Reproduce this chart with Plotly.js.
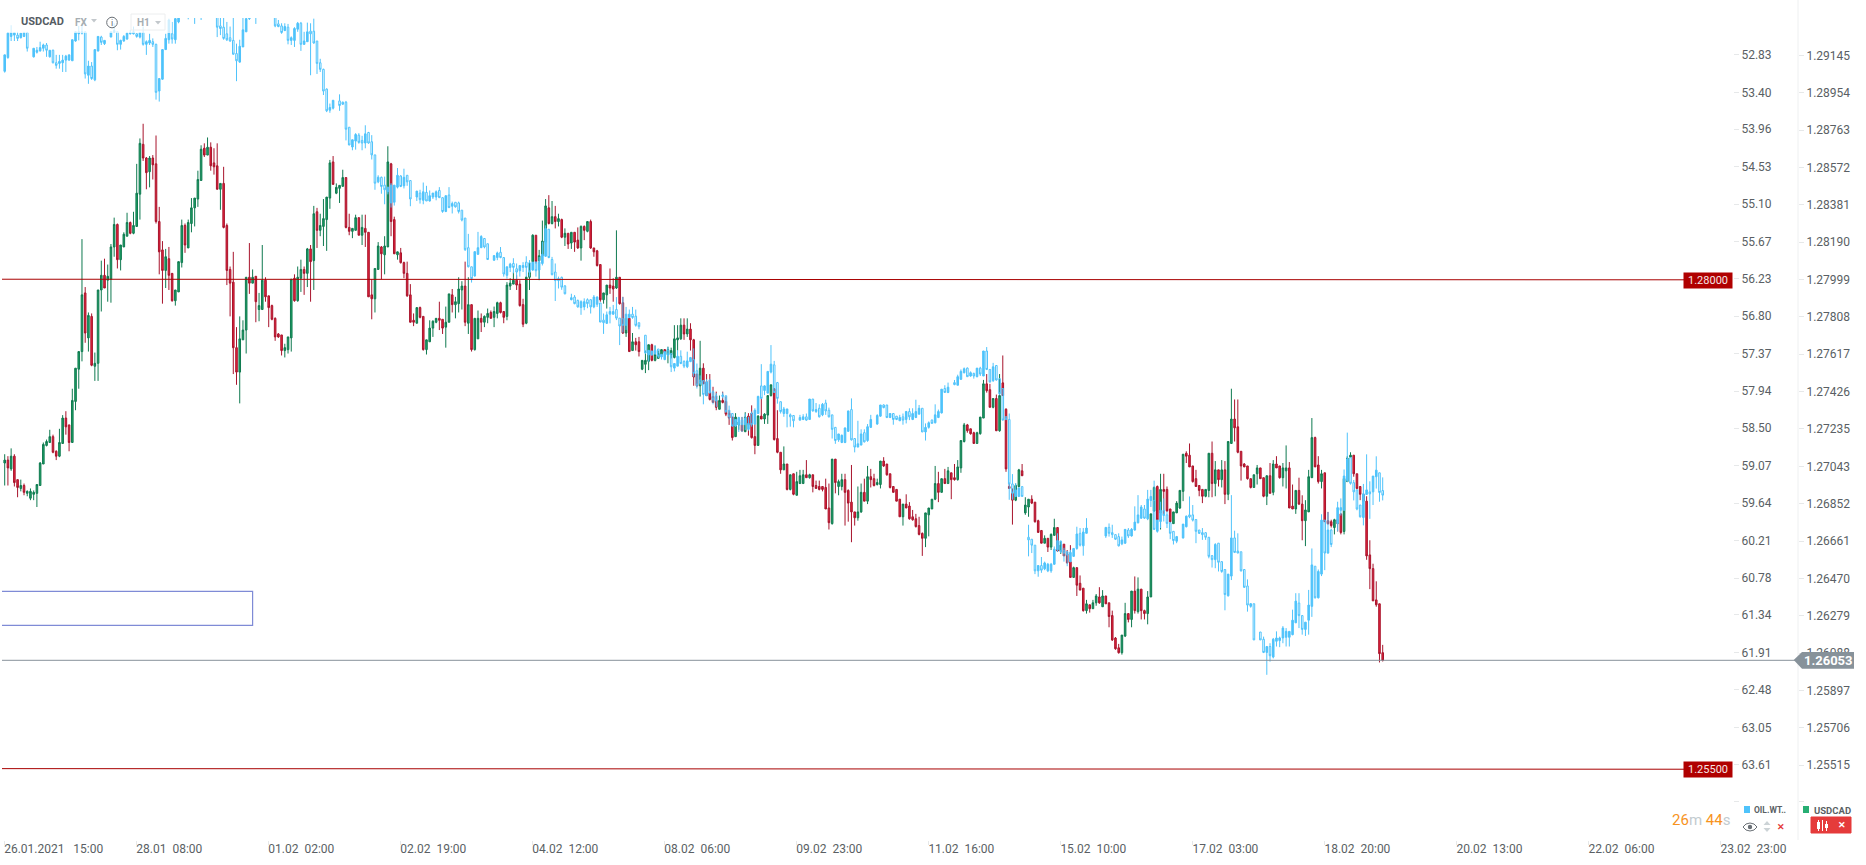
<!DOCTYPE html>
<html><head><meta charset="utf-8">
<script src="https://cdn.plot.ly/plotly-3.0.1.min.js"></script>
<style>html,body{margin:0;padding:0;background:#fff;overflow:hidden}#c{width:1866px;height:865px}</style>
</head><body><div id="c"></div>
<script>
// USDCAD H1 bars: open,high,low,close in half-pip steps above 1.25000
const usdBars0=[
412,421,389,415, 415,419,389,407, 406,427,404,419, 419,421,388,392, 395,395,377,387, 386,395,383,389, 389,391,379,382, 381,384,378,383, 376,386,374,383, 380,384,374,382,
381,390,367,390, 389,413,389,412, 411,433,411,431, 430,436,429,434, 433,446,433,439, 439,441,422,423, 424,425,415,419, 419,447,418,433, 432,461,432,458, 458,465,441,449,
451,451,424,433, 433,488,433,476, 475,509,466,509, 508,526,488,526, 526,641,516,584, 586,592,535,545, 540,566,526,563, 562,565,511,512, 511,525,496,514, 514,589,496,589,
589,619,567,604, 604,621,591,591, 599,615,577,603, 600,636,576,633, 633,663,623,656, 656,657,611,620, 620,635,609,635, 633,648,633,646, 644,668,644,658, 658,659,646,647,
647,669,646,655, 654,718,654,688, 687,744,661,739, 738,759,721,724, 724,725,692,709, 710,726,694,724, 724,727,702,717, 718,747,657,659, 659,674,605,628, 630,639,575,609,
609,631,591,623, 621,633,589,604, 606,606,577,578, 578,589,573,589, 587,618,587,618, 617,661,612,655, 655,657,627,635, 632,661,632,658, 657,683,648,673, 673,683,654,683,
682,711,674,702, 701,737,701,733, 734,739,725,727, 727,745,727,735, 735,740,711,716, 719,734,707,715, 716,739,692,692, 692,698,671,698, 698,715,652,653, 655,657,594,609,
610,613,562,596, 597,628,503,530, 530,551,492,505, 505,562,473,539, 538,558,538,548, 548,602,524,602, 602,637,585,596, 596,610,596,602, 603,603,556,577, 569,586,557,573,
569,635,569,599, 599,602,577,582, 583,583,551,571, 573,574,558,559, 560,561,537,541, 544,545,540,541, 543,543,522,527, 527,534,520,530, 528,541,524,541, 540,600,526,600,
601,605,577,578, 578,613,577,602, 601,620,587,610, 610,613,584,606, 606,632,592,631, 631,635,577,618, 619,675,589,667, 669,673,632,650, 650,667,644,655, 654,682,634,662];
const usdBars1=[
661,684,629,684, 683,722,672,719, 720,726,697,697, 688,698,687,694, 693,696,678,696, 695,712,695,704, 704,704,652,653, 653,667,645,649, 649,652,642,652, 650,666,650,663,
663,663,645,645, 645,666,635,653, 652,666,633,648, 648,648,582,582, 584,600,559,580, 580,611,566,611, 610,638,610,634, 633,634,600,626, 625,644,605,634, 633,736,633,720,
718,719,644,659, 661,664,626,626, 625,627,620,628, 627,632,616,617, 617,618,601,606, 606,618,582,583, 584,595,556,556, 558,565,552,556, 555,571,555,571, 571,572,560,561,
562,562,527,528, 528,538,523,538, 536,558,536,550, 550,558,541,557, 556,560,555,560, 560,577,548,558, 559,559,544,550, 551,572,530,556, 556,585,556,585, 584,590,566,574,
574,582,560,577, 575,602,566,590, 589,598,569,593, 593,618,552,556, 555,602,544,574, 574,574,526,528, 528,560,527,560, 539,568,539,560, 560,565,546,556, 556,563,551,562,
561,570,555,565, 566,568,560,560, 561,572,551,567, 565,577,560,576, 576,577,565,566, 567,567,555,561, 562,597,558,594, 593,601,589,596, 595,607,595,599, 599,604,589,594,
595,599,572,573, 574,580,551,554, 555,603,554,602, 602,619,589,607, 618,646,616,645, 645,645,616,618, 619,630,599,624, 624,660,623,639, 638,682,636,675, 673,686,656,657,
657,680,656,664, 664,675,652,659, 659,667,654,662, 661,662,642,643, 643,652,634,647, 647,647,631,636, 637,648,631,648, 648,648,628,638, 640,653,631,632, 632,655,619,654,
654,655,640,650, 649,659,648,659, 659,661,631,632, 632,632,623,628, 629,630,613,614, 615,615,577,579, 579,586,575,586, 584,594,570,594, 594,611,585,591, 593,601,577,590,
591,650,590,602, 602,602,574,575, 576,582,544,545, 545,560,541,560, 560,560,526,526, 527,545,527,536, 536,540,527,533, 536,541,521,526, 508,517,507,517, 513,527,504,517];
const usdBars2=[
516,533,507,533, 533,534,516,517, 517,532,516,523, 519,527,519,524, 523,528,519,528, 528,528,519,525, 523,531,514,528, 523,530,519,527, 520,553,519,539, 538,553,527,540,
539,560,538,553, 553,560,538,544, 544,560,541,549, 549,555,527,538, 538,539,491,500, 503,503,490,491, 491,537,480,509, 509,514,493,493, 495,503,481,481, 484,503,476,477,
480,490,474,474, 476,485,466,469, 467,481,467,476, 476,485,473,474, 475,480,460,462, 463,466,451,458, 459,459,435,438, 439,463,439,459, 451,457,446,454, 451,459,444,445,
444,464,444,459, 460,463,440,451, 463,471,437,438, 439,466,421,430, 430,461,430,460, 460,478,457,457, 457,463,452,462, 461,481,452,481, 481,492,480,492, 488,488,435,436,
437,466,422,423, 423,423,401,405, 405,429,405,411, 411,411,384,385, 385,400,384,400, 401,401,379,380, 379,403,379,393, 391,405,391,399, 391,405,391,400, 400,415,397,397,
397,401,396,400, 400,400,382,388, 389,394,386,386, 388,394,384,385, 388,388,383,385, 387,396,365,365, 366,391,344,351, 350,416,349,416, 416,416,381,392, 388,395,379,393,
388,401,384,395, 395,401,348,382, 384,385,352,371, 372,410,331,362, 362,362,348,356, 356,388,353,362, 362,391,361,382, 382,396,373,373, 373,409,370,398, 398,406,387,395,
396,401,388,389, 390,396,389,392, 390,414,386,414, 414,418,408,409, 411,411,399,400, 401,401,386,387, 388,388,382,382, 385,385,373,373, 375,375,357,357, 357,370,348,370,
370,380,366,366, 368,372,354,355, 357,364,353,354, 355,360,346,347, 348,357,338,339, 340,341,317,335, 335,361,326,361, 359,366,337,366, 365,375,365,375, 375,409,374,391,
391,403,372,382, 382,396,382,396, 396,406,391,391, 391,408,391,404, 402,402,375,395, 397,411,394,395, 395,415,394,408, 407,435,402,435, 434,453,433,451, 451,452,443,445];
const usdBars3=[
447,447,441,442, 443,444,432,432, 432,444,432,443, 442,459,441,459, 458,497,458,493, 493,503,484,486, 487,493,469,469, 469,478,468,478, 478,482,445,445, 445,503,444,481,
494,522,481,481, 467,468,403,406, 388,391,386,386, 381,386,349,374, 374,391,373,389, 388,406,387,405, 404,411,399,399, 361,377,359,369, 367,375,357,375, 375,379,370,371,
372,372,351,352, 353,354,341,341, 343,343,330,330, 330,338,330,335, 335,335,321,326, 326,340,323,339, 338,355,338,346, 346,346,321,322, 322,332,319,328, 329,329,317,317,
319,323,309,310, 311,328,295,295, 295,306,295,305, 305,305,276,287, 289,297,282,282, 284,284,260,261, 261,272,258,268, 267,267,259,263, 263,272,263,269, 269,278,266,276,
275,285,268,269, 265,282,265,276, 276,276,268,268, 269,269,244,255, 256,261,230,231, 233,234,221,222, 223,227,217,218, 218,236,216,236, 235,269,234,258, 258,258,249,252,
252,281,244,281, 281,296,258,261, 260,295,258,283, 283,283,252,261, 261,262,252,258, 258,281,247,275, 275,360,275,360, 363,388,362,387, 388,389,353,354, 361,401,344,385,
385,401,360,383, 385,388,362,363, 365,365,351,352, 350,362,350,362, 361,373,361,371, 366,384,365,384, 383,421,373,421, 422,424,412,419, 420,432,408,408, 409,409,392,393,
396,405,388,388, 389,389,378,384, 385,385,371,378, 378,385,377,385, 384,422,377,422, 422,434,377,391, 391,414,378,405, 405,405,388,395, 395,415,387,405, 405,414,370,380,
380,434,374,434, 432,488,432,457, 457,477,434,448, 449,477,422,423, 424,424,394,409, 411,412,408,408, 409,409,395,396, 396,396,386,387, 387,400,387,400, 401,410,390,407,
407,407,396,396, 397,397,377,378, 378,399,369,399, 399,412,381,381, 382,415,379,411, 411,419,407,407, 409,409,396,397, 397,412,388,407, 404,430,386,407, 407,413,366,366];
const usdBars4=[
368,390,365,365, 365,384,360,384, 384,397,369,370, 370,379,333,353, 353,374,327,364, 362,405,362,398, 397,458,397,438, 438,439,408,408, 410,419,391,393, 393,405,386,401,
402,402,352,352, 353,362,349,350, 352,354,346,348, 346,355,339,354, 354,355,342,350, 360,360,339,341, 342,396,339,396, 393,419,393,417, 418,423,418,420, 420,420,398,401,
401,401,385,386, 388,388,374,380, 380,380,372,373, 373,378,313,317, 318,333,283,304, 304,309,271,271, 272,291,265,267, 268,268,208,217, 218,226,209,210];
// OIL.WTI H1 bars: open,high,low,close in cents above 50.00 (0,0,0,0 = market closed that hour)
const oilBars0=[
308,310,283,283, 287,289,250,250, 255,262,238,249, 253,262,249,249, 253,262,248,258, 257,258,250,250, 255,256,248,249, 249,278,248,273, 0,0,0,0, 286,287,273,273,
279,281,271,276, 277,278,263,272, 273,278,266,268, 268,286,265,276, 286,287,276,276, 276,296,275,295, 295,304,283,299, 296,304,283,293, 295,309,283,291, 291,309,283,285,
291,292,283,283, 292,292,260,260, 262,263,248,248, 251,261,239,248, 250,252,235,248, 248,319,248,312, 314,327,292,300, 300,321,294,319, 321,323,275,275, 277,278,255,255,
256,268,254,264, 266,268,261,261, 0,0,0,0, 256,256,248,248, 249,249,235,246, 248,276,248,267, 267,275,260,261, 262,263,253,255, 259,260,248,250, 251,252,245,249,
251,252,240,248, 251,257,250,255, 256,258,249,249, 249,269,240,267, 267,283,261,263, 265,268,251,261, 263,271,258,267, 267,351,266,340, 338,354,319,319, 320,321,275,275,
275,275,251,258, 260,266,228,230, 251,266,233,259, 260,266,225,228, 233,235,215,222, 222,224,210,215, 0,0,0,0, 212,229,205,218, 218,222,209,214, 214,236,208,218,
218,221,205,209, 209,230,204,214, 214,219,203,208, 208,213,198,203, 203,215,198,210, 210,221,205,218, 218,256,218,241, 239,253,222,243, 241,260,225,258, 251,262,233,260,
257,263,240,262, 261,283,225,282, 281,323,266,292, 294,295,260,270, 271,271,225,245, 248,248,225,228, 228,230,210,215, 215,218,205,210, 210,236,205,222, 222,224,210,214,
0,0,0,0, 210,214,200,205, 205,212,198,208, 208,216,204,214, 214,241,212,239, 236,241,230,240, 239,251,235,249, 246,247,235,240, 241,267,236,261, 261,268,255,257,
261,271,241,243, 244,248,233,235, 235,277,233,267, 267,268,248,262, 263,263,234,248, 247,314,235,251, 247,266,228,265, 262,312,262,296, 295,309,289,305, 305,344,304,338];
const oilBars1=[
335,370,334,368, 367,371,357,363, 364,366,352,352, 0,0,0,0, 353,368,343,360, 355,359,354,358, 355,413,353,396, 393,420,393,420, 423,428,412,412, 414,427,402,404,
405,418,402,416, 413,428,406,417, 417,425,390,403, 401,418,400,417, 415,442,405,435, 435,488,435,478, 476,478,466,469, 469,494,468,483, 481,510,468,488, 491,495,484,484,
508,515,478,481, 507,512,481,481, 484,486,455,466, 467,484,466,483, 482,486,456,469, 466,482,466,476, 474,513,474,502, 0,0,0,0, 499,505,490,490, 493,509,488,503,
504,510,477,491, 492,505,482,505, 505,506,489,497, 499,502,493,493, 499,504,489,491, 489,500,484,500, 500,523,500,521, 521,522,497,497, 496,516,484,515, 513,524,506,509,
507,515,507,514, 508,524,506,521, 519,536,519,534, 531,581,531,579, 576,606,555,605, 605,629,605,623, 619,620,582,582, 586,587,552,576, 576,576,557,559, 562,577,562,575,
570,594,570,594, 0,0,0,0, 595,596,588,588, 591,595,582,584, 583,592,575,591, 591,620,591,616, 618,623,605,605, 606,613,599,601, 600,615,592,606, 608,625,600,613,
611,620,603,603, 606,613,598,603, 598,620,589,606, 599,620,595,613, 610,611,598,598, 598,620,597,611, 610,625,590,598, 600,603,567,586, 589,590,542,547, 548,592,548,591,
594,618,590,617, 613,657,600,626, 626,638,620,623, 621,640,620,636, 634,647,633,646, 0,0,0,0, 655,656,646,652, 651,662,648,661, 656,667,655,666, 667,678,656,658,
666,671,653,658, 655,668,653,661, 655,676,655,666, 666,668,648,651, 662,666,650,651, 660,689,660,689, 686,707,676,690, 691,692,673,678, 677,691,666,673, 677,678,663,673,
670,686,651,683, 683,724,683,695, 684,705,651,694, 694,701,666,677, 682,683,670,677, 677,684,666,682, 680,696,670,694, 690,700,690,696, 0,0,0,0, 709,737,709,736];
const oilBars2=[
739,749,732,732, 739,740,733,733, 737,739,724,732, 730,744,730,741, 742,746,738,738, 746,747,734,734, 732,741,727,739, 737,765,737,757, 759,764,752,752, 756,756,732,741,
741,753,732,752, 749,759,747,756, 757,759,734,748, 749,750,742,743, 746,772,729,767, 763,790,752,785, 777,785,770,782, 778,814,778,799, 801,801,776,780, 777,798,777,796,
795,814,793,807, 801,818,797,809, 0,0,0,0, 802,805,796,800, 801,827,801,825, 823,837,816,833, 828,848,828,847, 847,848,837,837, 845,856,833,834, 838,856,833,845,
845,853,828,835, 852,854,833,843, 828,848,825,845, 844,845,820,823, 828,828,801,802, 786,806,753,805, 793,800,785,786, 797,797,764,764, 765,767,724,753, 754,796,748,796,
781,813,780,805, 810,828,810,825, 828,833,818,821, 828,849,821,821, 830,848,828,833, 831,849,831,839, 0,0,0,0, 838,839,830,834, 837,838,829,833, 833,839,828,838,
837,837,806,806, 806,825,806,824, 825,827,812,822, 820,834,814,833, 830,832,812,814, 812,830,807,824, 823,834,819,833, 830,866,830,852, 849,874,849,869, 868,871,859,859,
872,873,860,861, 872,873,849,850, 855,856,824,824, 822,869,805,868, 866,887,866,879, 879,879,839,874, 876,876,852,859, 857,872,852,871, 869,871,844,848, 849,850,830,837,
0,0,0,0, 844,845,829,831, 832,833,815,815, 815,820,814,819, 815,835,815,834, 834,835,828,828, 828,845,828,837, 832,838,832,837, 839,839,830,834, 833,845,828,838,
837,843,824,825, 825,838,820,833, 837,838,820,828, 834,835,807,825, 829,829,815,820, 820,856,820,856, 856,869,843,849, 849,851,840,842, 838,843,837,843, 842,843,814,830,
834,835,822,825, 827,828,791,791, 790,796,785,796, 796,797,781,788, 0,0,0,0, 781,785,777,784, 785,785,769,772, 776,777,761,764, 766,767,758,760, 759,772,758,772];
const oilBars3=[
771,772,764,766, 767,775,766,771, 772,773,759,759, 759,771,757,768, 771,771,733,733, 733,762,727,761, 761,781,761,780, 778,780,751,757, 755,778,755,777, 775,800,775,798,
790,838,790,838, 833,838,832,837, 837,959,828,935, 935,959,920,949, 954,955,934,944, 954,954,941,941, 939,954,939,954, 0,0,0,0, 1016,1045,997,1020, 1019,1040,1019,1028,
1028,1072,1028,1067, 1067,1076,1059,1059, 1059,1070,1046,1066, 1064,1066,1053,1055, 1067,1069,1055,1057, 1067,1070,1055,1057, 1057,1058,1030,1034, 1035,1038,1010,1021, 1022,1040,1021,1038, 1036,1053,1032,1040,
1038,1060,1038,1043, 1053,1054,1035,1039, 1045,1046,1033,1033, 1033,1035,1000,1011, 1010,1030,1002,1028, 1029,1044,1002,1008, 1010,1010,987,1002, 0,0,0,0, 0,0,0,0, 0,0,0,0,
0,0,0,0, 0,0,0,0, 1014,1017,1001,1001, 1001,1015,995,1010, 1009,1017,997,1012, 1012,1020,1012,1019, 1015,1030,1010,1029, 1026,1028,1015,1020, 1025,1026,1004,1004, 1005,1017,1002,1014,
1014,1015,1002,1004, 1005,1006,969,993, 994,995,952,982, 987,988,967,970, 973,988,967,987, 988,990,944,958, 960,970,944,954, 960,1005,930,1004, 1007,1009,990,990, 992,1002,962,975,
975,992,957,983, 982,1002,977,995, 994,1019,994,1010, 1007,1027,1007,1021, 1022,1025,1014,1015, 0,0,0,0, 1017,1018,996,996, 1000,1001,983,984, 982,987,954,985, 982,992,967,990,
989,1025,989,1007, 1005,1011,1005,1010, 1009,1020,1002,1012, 1009,1020,1009,1016, 1016,1048,1016,1045, 1044,1062,1043,1050, 1050,1063,1025,1027, 1025,1068,1025,1054, 1053,1070,1053,1068, 1065,1127,1065,1103,
1105,1106,1072,1072, 1075,1081,952,1017, 1017,1040,1006,1039, 1037,1040,1010,1040, 1038,1068,1038,1067, 1065,1093,1065,1092, 1090,1129,1080,1119, 1121,1123,1116,1117, 1117,1172,1117,1172, 0,0,0,0,
1160,1172,1160,1172, 1171,1192,1167,1191, 1191,1225,1182,1182, 1182,1205,1177,1196, 1198,1200,1169,1171, 1174,1182,1159,1169, 1173,1183,1167,1169, 1169,1177,1151,1154, 1168,1182,1154,1159, 1168,1182,1159,1159];
const oilBars4=[
1164,1165,1126,1142, 1146,1146,1101,1113, 1116,1154,1101,1135, 1135,1164,1135,1156, 1156,1166,1145,1145, 1142,1164,1096,1119, 1121,1137,1033,1058, 1060,1109,1060,1108, 1108,1109,1065,1068, 1072,1075,981,990,
990,1066,990,1040, 1040,1041,978,1005, 1005,1031,1003,1027, 0,0,0,0, 995,1007,962,971, 975,983,957,971, 975,975,913,923, 930,932,857,897, 895,936,894,934, 933,960,929,947,
944,975,944,973, 967,986,967,985, 986,998,935,950, 951,951,890,944, 947,988,931,950, 947,967,923,923, 924,942,893,914, 918,962,918,948, 945,960,925,952];

const usdTicks=[1.29145,1.28954,1.28763,1.28572,1.28381,1.28190,1.27999,1.27808,1.27617,1.27426,1.27235,1.27043,1.26852,1.26661,1.26470,1.26279,1.26088,1.25897,1.25706,1.25515];
const oilTicks=[52.83,53.40,53.96,54.53,55.10,55.67,56.23,56.80,57.37,57.94,58.50,59.07,59.64,60.21,60.78,61.34,61.91,62.48,63.05,63.61];
const timeLabels=['26.01.2021\u00a0\u00a0\u00a015:00','28.01\u00a0\u00a008:00','01.02\u00a0\u00a002:00','02.02\u00a0\u00a019:00','04.02\u00a0\u00a012:00','08.02\u00a0\u00a006:00','09.02\u00a0\u00a023:00','11.02\u00a0\u00a016:00','15.02\u00a0\u00a010:00','17.02\u00a0\u00a003:00','18.02\u00a0\u00a020:00','20.02\u00a0\u00a013:00','22.02\u00a0\u00a006:00','23.02\u00a0\u00a023:00'];
const barsPerLabel=41;
const lastPrice=1.26051, levelHigh=[1.28000,1.27997], levelLow=[1.25497,1.25494];
const boxBars=[-0.84,77], boxPrices=[1.26404,1.26230];

const W=1866,H=865,T=18,B=25,R=1733;
const X=p=>p/W, Y=p=>1-(p-T)/(H-T-B);
function split(rows,toPrice){
  const x=[],o=[],h=[],l=[],c=[];
  for(let i=0;i<rows.length;i+=4){
    if(rows[i]===0)continue;
    x.push(i/4);o.push(toPrice(rows[i]));h.push(toPrice(rows[i+1]));l.push(toPrice(rows[i+2]));c.push(toPrice(rows[i+3]));
  }
  return {x,open:o,high:h,low:l,close:c};
}
const usd=split([].concat(usdBars0,usdBars1,usdBars2,usdBars3,usdBars4),v=>+(1.25+v*0.00005).toFixed(5));
const oil=split([].concat(oilBars0,oilBars1,oilBars2,oilBars3,oilBars4),v=>50+v/100);
const GREEN='#0f7a50',GREENF='#1fa365',RED='#a8142c',REDF='#e8243c',BLUE='#4fc3fb';
const traces=[
 Object.assign({type:'candlestick',name:'USDCAD',xaxis:'x',yaxis:'y',whiskerwidth:0,hoverinfo:'skip',
  increasing:{line:{color:GREEN,width:1},fillcolor:GREENF},decreasing:{line:{color:RED,width:1},fillcolor:REDF}},usd),
 Object.assign({type:'candlestick',name:'OIL.WTI',xaxis:'x',yaxis:'y2',whiskerwidth:0,hoverinfo:'skip',
  increasing:{line:{color:BLUE,width:1},fillcolor:'rgba(255,255,255,0)'},decreasing:{line:{color:BLUE,width:1},fillcolor:BLUE}},oil)
];
const F='Roboto, sans-serif', TXT='#5a5f64';
const pad='\u00a0'.repeat(11);
const tickIdx=timeLabels.map((_,k)=>k*barsPerLabel);
const pShape=(d,fill,line,lw,op)=>({type:'path',xref:'paper',yref:'paper',path:d,fillcolor:fill,line:{color:line||fill,width:lw||0},layer:'above',opacity:op==null?1:op});
function path(pts,close){return pts.map((q,i)=>(i?'L':'M')+X(q[0])+' '+Y(q[1])).join(' ')+(close?' Z':'');}
function rect(x0,y0,x1,y1,fill,line,lw,op){return {type:'rect',xref:'paper',yref:'paper',x0:X(x0),x1:X(x1),y0:Y(y0),y1:Y(y1),fillcolor:fill,line:{color:line||fill,width:lw||0},layer:'above',opacity:op==null?1:op};}
function circ(cx,cy,r,fill,line,lw){return {type:'circle',xref:'paper',yref:'paper',x0:X(cx-r),x1:X(cx+r),y0:Y(cy-r),y1:Y(cy+r),fillcolor:fill,line:{color:line||fill,width:lw||0},layer:'above'};}
function txt(x,y,t,size,color,anchor,extra){return Object.assign({xref:'paper',yref:'paper',x:X(x),y:Y(y),text:t,showarrow:false,font:{family:F,size:size,color:color},xanchor:anchor||'left',yanchor:'middle',borderpad:0},extra||{});}
const shapes=[
 rect(10,10,172,33,'#ffffff',null,0,0.72),
 {type:'line',xref:'paper',yref:'paper',x0:X(1798),x1:X(1798),y0:Y(0),y1:Y(840),line:{color:'#eef0f1',width:1},layer:'below'},
 {type:'line',xref:'paper',yref:'y',x0:X(2),x1:X(1684),y0:levelHigh[0],y1:levelHigh[1],line:{color:'#a80000',width:1},layer:'above'},
 {type:'line',xref:'paper',yref:'y',x0:X(2),x1:X(1684),y0:levelLow[0],y1:levelLow[1],line:{color:'#a80000',width:1},layer:'above'},
 {type:'line',xref:'paper',yref:'y',x0:X(2),x1:X(1795),y0:lastPrice,y1:lastPrice,line:{color:'#87929a',width:1},layer:'above'},
 {type:'path',xref:'x',yref:'y',path:`M ${boxBars[0]} ${boxPrices[0]} L ${boxBars[1]} ${boxPrices[0]} L ${boxBars[1]} ${boxPrices[1]} L ${boxBars[0]} ${boxPrices[1]}`,line:{color:'#7f8bd6',width:1.2},layer:'above'},
 pShape(path([[1793.7,660],[1802,652],[1854,652],[1854,668.7],[1802,668.7]],true),'#87929a'),
 pShape(path([[91,19],[97,19],[94,22.5]],true),'#c3c8cc'),
 circ(112,22.5,5.3,'rgba(0,0,0,0)','#6a7076',1),
 rect(131,14,165,30,'rgba(255,255,255,0)','#eceeef',1),
 pShape(path([[155,21],[161,21],[158,24.5]],true),'#c3c8cc'),
 rect(1744,806,1750,813,'#4fc3fb'),
 rect(1803,806,1809,813,'#27ae73'),
 pShape(path([[1743,827],[1746,824],[1750,823],[1754,824],[1757,827],[1754,830],[1750,831],[1746,830]],true),'rgba(0,0,0,0)','#6a7076',1),
 circ(1750,827,2.2,'#6a7076'),
 pShape(path([[1763.5,825],[1770.5,825],[1767,821]],true),'#ccd3d6'),
 pShape(path([[1763.5,828],[1770.5,828],[1767,832]],true),'#ccd3d6'),
 {type:'rect',xref:'paper',yref:'paper',x0:X(1811),x1:X(1851),y0:Y(817),y1:Y(833),fillcolor:'#e53b3b',line:{color:'#e53b3b',width:1},layer:'above'},
 rect(1817,822,1820,829,'#ffffff'),
 {type:'line',xref:'paper',yref:'paper',x0:X(1818.5),x1:X(1818.5),y0:Y(820),y1:Y(831),line:{color:'#fff',width:1},layer:'above'},
 {type:'line',xref:'paper',yref:'paper',x0:X(1822.5),x1:X(1822.5),y0:Y(820),y1:Y(831),line:{color:'#fff',width:1},layer:'above'},
 rect(1825,824,1828,828,'#ffffff'),
 {type:'line',xref:'paper',yref:'paper',x0:X(1826.5),x1:X(1826.5),y0:Y(821),y1:Y(831),line:{color:'#fff',width:1},layer:'above'}
];
const annotations=[
 txt(20,22,'<b>USDCAD</b>',11,'#555c63'),
 txt(74,22.5,'<b>FX</b>',10,'#a6adb2'),
 txt(112,22.5,'i',9,'#6a7076','center'),
 txt(136,22.5,'<b>H1</b>',10,'#a6adb2'),
 txt(1708,280.3,'1.28000',11,'#f5e5e5','center',{bgcolor:'#b00000',width:48,height:15}),
 txt(1708,769.3,'1.25500',11,'#f5e5e5','center',{bgcolor:'#b00000',width:48,height:15}),
 txt(1828,660.3,'<b>1.26053</b>',13,'#ffffff','center'),
 txt(1731,820,'<span style="color:#f7931e">26</span><span style="color:#c2cbd0">m</span> <span style="color:#f7931e">44</span><span style="color:#c2cbd0">s</span>',15,'#c2cbd0','right'),
 txt(1753,810,'<b>OIL.WT..</b>',8.5,'#5a5f64'),
 txt(1813,810,'<b>USDCAD</b>',9.5,'#5a5f64'),
 txt(1780.5,827,'<b>✕</b>',9,'#e53b3b','center'),
 txt(1841.5,825,'<b>✕</b>',9,'#ffffff','center')
];
const axisCommon={tickfont:{family:F,size:12,color:TXT},ticks:'outside',ticklen:5,tickwidth:1,tickcolor:'#e6e8e9',showgrid:false,zeroline:false,fixedrange:true,side:'right',anchor:'free',tickmode:'array'};
const layout={
 width:W,height:H,margin:{l:0,r:0,t:T,b:B,pad:0},paper_bgcolor:'#fff',plot_bgcolor:'#fff',showlegend:false,boxgap:0.3,boxmode:'overlay',
 xaxis:{type:'linear',domain:[0,R/W],range:[-1.46,536.8],rangeslider:{visible:false},showgrid:false,zeroline:false,fixedrange:true,
  tickmode:'array',tickvals:tickIdx,ticktext:timeLabels.map((s,k)=>k?s+pad:s),ticks:'outside',ticklen:4,tickcolor:'#e6e8e9',tickangle:0,
  tickfont:{family:F,size:12,color:TXT},ticklabelshift:49,ticklabelstandoff:-6,anchor:'y',showline:false},
 yaxis:Object.assign({},axisCommon,{range:[1.25132,1.29336],position:1798/W,tickvals:usdTicks.concat([1.25327]),ticktext:usdTicks.map(v=>v.toFixed(5)).concat(['']),showline:false}),
 yaxis2:Object.assign({},axisCommon,{range:[64.76,52.27],position:R/W,overlaying:'y',tickvals:oilTicks.concat([64.18]),ticktext:oilTicks.map(v=>v.toFixed(2)).concat(['']),showline:false}),
 shapes,annotations
};
Plotly.newPlot('c',traces,layout,{staticPlot:true,displayModeBar:false});
</script></body></html>
